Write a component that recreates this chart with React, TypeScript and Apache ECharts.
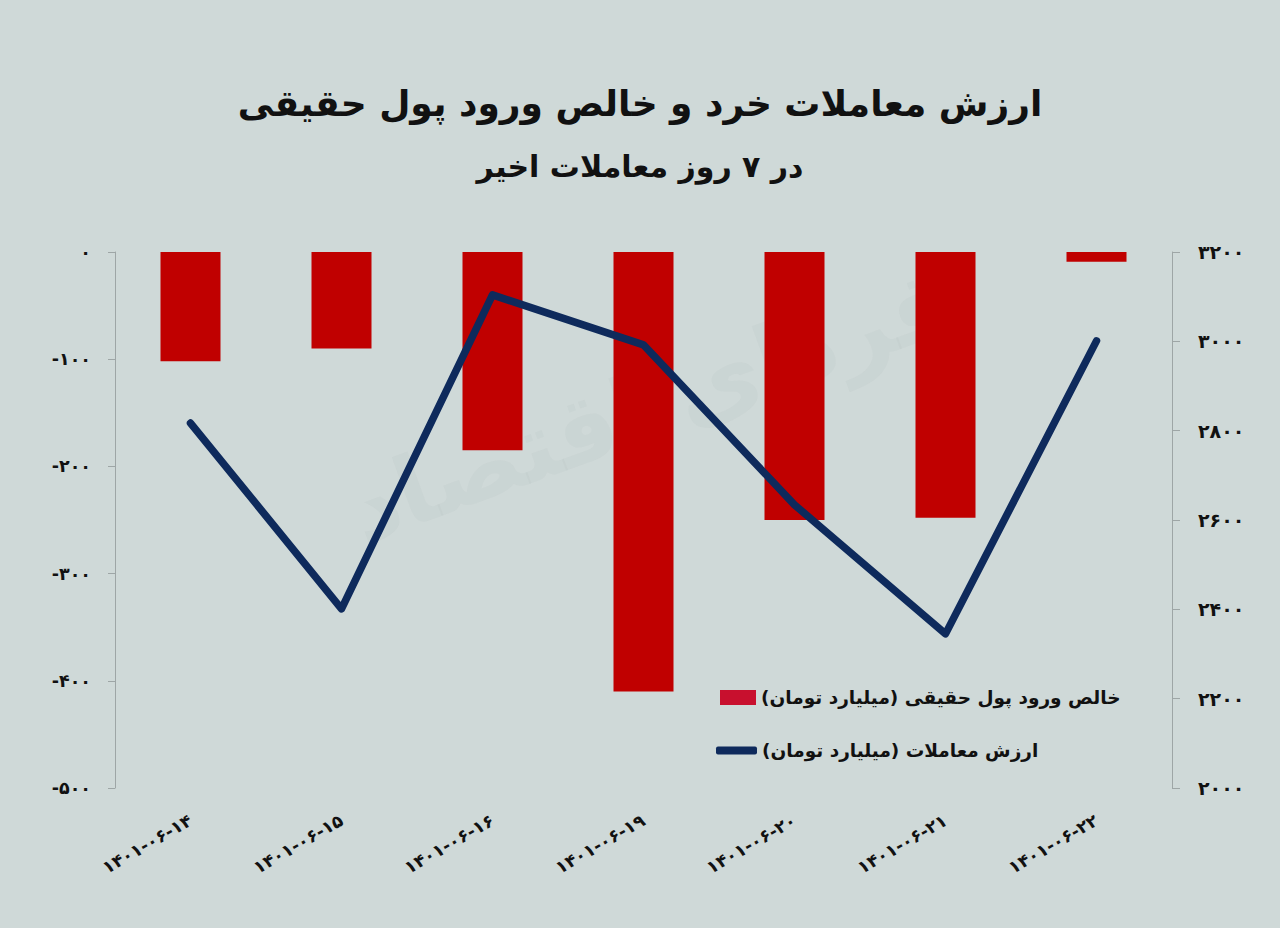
import React, { useEffect, useRef } from "react";
import * as echarts from "echarts";

const categories = [
  "۱۴۰۱-۰۶-۱۴",
  "۱۴۰۱-۰۶-۱۵",
  "۱۴۰۱-۰۶-۱۶",
  "۱۴۰۱-۰۶-۱۹",
  "۱۴۰۱-۰۶-۲۰",
  "۱۴۰۱-۰۶-۲۱",
  "۱۴۰۱-۰۶-۲۲",
];
const netFlow = [-102, -90, -185, -410, -250, -248, -9];
const tradeValue = [2817, 2401, 3104, 2992, 2634, 2345, 3001];

const barName = "\u200Fخالص ورود پول حقیقی (میلیارد تومان)\u200F";
const lineName = "\u200Fارزش معاملات (میلیارد تومان)\u200F";
const titleText = "ارزش معاملات خرد و خالص ورود پول حقیقی";
const subtitleText = "در ۷ روز معاملات اخیر";
const watermarkText = "فردای اقتصاد";

const FA = "۰۱۲۳۴۵۶۷۸۹";
const toFa = (v: number | string) =>
  String(v).replace(/\d/g, (d) => FA[Number(d)]);

const FONT = "'DejaVu Sans', sans-serif";

export default function App() {
  const ref = useRef<HTMLDivElement>(null);
  useEffect(() => {
    if (!ref.current) return;
    const chart = echarts.init(ref.current, undefined, { renderer: "svg" });
    chart.setOption({
      animation: false,
      backgroundColor: "#cfd9d8",
      textStyle: { fontFamily: FONT },
      title: [
        {
          text: titleText,
          left: "center",
          top: 80,
          textStyle: { fontFamily: FONT, fontSize: 36, fontWeight: "bold", color: "#111" },
        },
        {
          text: subtitleText,
          left: "center",
          top: 146,
          textStyle: { fontFamily: FONT, fontSize: 30, fontWeight: "bold", color: "#111" },
        },
      ],
      graphic: [
        {
          type: "text",
          x: 650,
          y: 405,
          rotation: (20 * Math.PI) / 180,
          z: -1,
          style: {
            text: watermarkText,
            font: "bold 95px 'DejaVu Sans', sans-serif",
            fill: "rgba(150,165,162,0.08)",
            textAlign: "center",
            textVerticalAlign: "middle",
          },
        },
      ],
      legend: [
        {
          data: [{ name: barName, icon: "rect", itemStyle: { color: "#c8102e" } }],
          left: 715,
          top: 683,
          itemWidth: 36,
          itemHeight: 15,
          textStyle: { fontFamily: FONT, fontSize: 18.5, fontWeight: "bold", color: "#111" },
        },
        {
          data: [{ name: lineName, icon: "roundRect" }],
          left: 711,
          top: 736,
          itemWidth: 41,
          itemHeight: 8,
          textStyle: { fontFamily: FONT, fontSize: 18.5, fontWeight: "bold", color: "#111" },
        },
      ],
      grid: { left: 115, right: 108, top: 252, bottom: 140 },
      xAxis: {
        type: "category",
        data: categories,
        axisLine: { show: false },
        axisTick: { show: false },
        axisLabel: {
          rotate: 30,
          margin: 31,
          fontFamily: FONT,
          fontSize: 17.5,
          fontWeight: "bold",
          color: "#111",
        },
      },
      yAxis: [
        {
          type: "value",
          min: -500,
          max: 0,
          interval: 100,
          splitLine: { show: false },
          axisLine: { show: true, lineStyle: { color: "#9ea6a6" } },
          axisTick: { show: true, length: 7, lineStyle: { color: "#9ea6a6" } },
          axisLabel: {
            margin: 24,
            fontFamily: FONT,
            fontSize: 17.5,
            fontWeight: "bold",
            color: "#111",
            formatter: (v: number) => toFa(v),
          },
        },
        {
          type: "value",
          min: 2000,
          max: 3200,
          interval: 200,
          position: "right",
          splitLine: { show: false },
          axisLine: { show: true, lineStyle: { color: "#9ea6a6" } },
          axisTick: { show: true, length: 8, lineStyle: { color: "#9ea6a6" } },
          axisLabel: {
            margin: 26,
            fontFamily: FONT,
            fontSize: 19,
            fontWeight: "bold",
            color: "#111",
            formatter: (v: number) => toFa(v),
          },
        },
      ],
      series: [
        {
          name: barName,
          type: "bar",
          data: netFlow,
          barWidth: 60,
          itemStyle: { color: "#c00000" },
          yAxisIndex: 0,
        },
        {
          name: lineName,
          type: "line",
          data: tradeValue,
          yAxisIndex: 1,
          symbol: "none",
          lineStyle: { color: "#0e2a5c", width: 7.5, cap: "round", join: "round" },
          itemStyle: { color: "#0e2a5c" },
        },
      ],
    });
    return () => chart.dispose();
  }, []);
  return (
    <div
      ref={ref}
      style={{ position: "fixed", left: 0, top: 0, width: 1280, height: 928 }}
    />
  );
}
